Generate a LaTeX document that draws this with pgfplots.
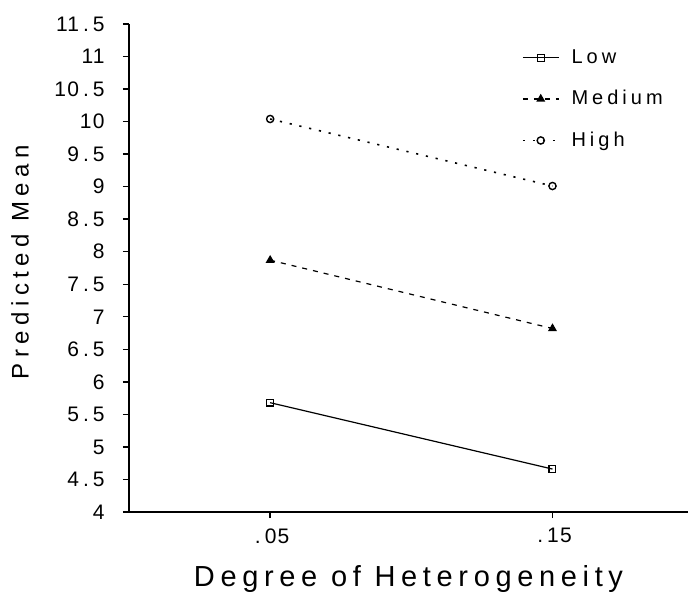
\documentclass[border=0pt]{standalone}
\usepackage{fontspec}
\setmainfont{Liberation Sans}
\newfontfamily\tickfont[LetterSpace=6]{Liberation Sans}
\newfontfamily\xlabfont[LetterSpace=19.5]{Liberation Sans}
\newfontfamily\ylabfont[LetterSpace=23]{Liberation Sans}
\newfontfamily\legfont[LetterSpace=20]{Liberation Sans}
\usepackage{pgfplots}
\pgfplotsset{compat=1.18}
\newcommand{\dt}{\hspace{2pt}.\hspace{2pt}}

\begin{document}
\begin{tikzpicture}
  \begin{axis}[
      width=279.5pt, height=244pt,
      scale only axis,
      xmin=0, xmax=0.198,
      ymin=4, ymax=11.5,
      axis x line=bottom, axis y line=left,
      axis line style={-, line width=0.8pt},
      tick align=outside,
      major tick length=3pt,
      tick style={black, line width=0.7pt},
      xtick={0.05,0.15}, xticklabels={\dt05,\dt15},
      ytick={4,4.5,5,5.5,6,6.5,7,7.5,8,8.5,9,9.5,10,10.5,11,11.5},
      yticklabels={4,4\dt5,5,5\dt5,6,6\dt5,7,7\dt5,8,8\dt5,9,9\dt5,10,10\dt5,11,11\dt5},
      ticklabel style={font=\tickfont\fontsize{10.5}{12}\selectfont},
      yticklabel style={anchor=east, inner sep=0pt, xshift=-9pt},
      xticklabel style={anchor=north, inner sep=0pt, yshift=-5pt},
      xlabel={\xlabfont\fontsize{14.5}{16}\selectfont Degree of Heterogeneity},
      ylabel={\ylabfont\fontsize{12}{14}\selectfont Predicted Mean},
      xlabel style={at={(axis description cs:0.5,-0.138)}, anchor=center},
      ylabel style={at={(axis description cs:-0.195,0.512)}, anchor=center},
      legend style={draw=none, fill=none, at={(0.6915,0.965)}, anchor=north west,
        font=\legfont\fontsize{10}{12}\selectfont, row sep=8pt,
        legend cell align=left},
      legend image code/.code={\draw[mark repeat=2,mark phase=2,#1]
        plot coordinates {(0pt,0pt)(9pt,0pt)(18pt,0pt)};},
    ]
    \addplot[black, line width=0.6pt, mark=square, mark size=1.7pt,
      mark options={solid}] coordinates {(0.05,5.68) (0.15,4.66)};
    \addlegendentry{\hspace{4pt}Low}
    \addplot[black, line width=0.6pt, dash pattern=on 2.5pt off 3pt,
      mark=triangle*, mark size=2pt, mark options={solid}]
      coordinates {(0.05,7.87) (0.15,6.82)};
    \addlegendentry{\hspace{4pt}Medium}
    \addplot[black, line width=0.8pt, dash pattern=on 1.1pt off 3.9pt,
      mark=o, mark size=1.8pt, mark options={solid, line width=0.7pt}]
      coordinates {(0.05,10.04) (0.15,9.01)};
    \addlegendentry{\hspace{4pt}High}
    \coordinate (ll) at (rel axis cs:0,0);
    \coordinate (ur) at (rel axis cs:1,1);
  \end{axis}
  \pgfresetboundingbox
  \path ([xshift=-64.5pt,yshift=-40.5pt]ll) rectangle ([yshift=12pt]ur);
\end{tikzpicture}
\end{document}
